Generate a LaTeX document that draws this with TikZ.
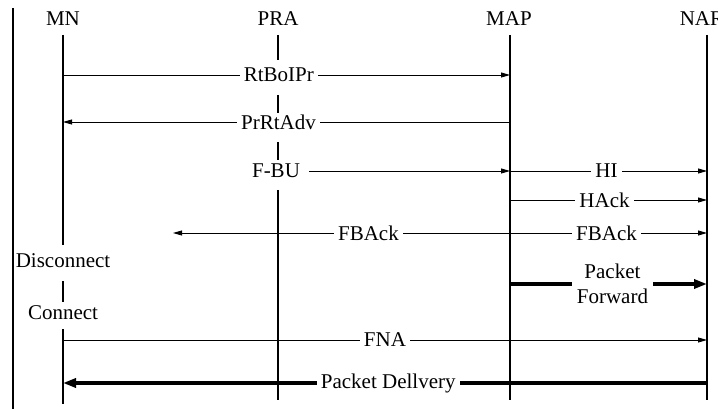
\documentclass[tikz,border=0pt]{standalone}
\usepackage{fontspec}
\setmainfont{Liberation Serif}
\usetikzlibrary{arrows.meta}
\tikzset{
  lbl/.style={font=\fontsize{21}{25}\selectfont, inner sep=0pt},
  gaplbl/.style={lbl, fill=white, inner xsep=4pt, inner ysep=1pt},
  life/.style={line width=2pt},
  border/.style={line width=2.8pt},
  msg/.style={line width=0.8pt, -{Triangle[length=9pt,width=5pt]}},
  bigmsg/.style={line width=3.8pt, -{Triangle[length=13pt,width=9pt]}},
}
\begin{document}
\begin{tikzpicture}[x=1pt,y=-1pt]
\useasboundingbox (0,0) rectangle (718,409);
% border
\coordinate (bT) at (13,8);
\coordinate (bB) at (13,409);
\draw[border] (bT) -- (bB);
% headers
\node[lbl] (MN) at (63,19) {MN};
\node[lbl] (PRA) at (278,19) {PRA};
\node[lbl] (MAP) at (509,19) {MAP};
\node[lbl] (NAR) at (702,19) {NAR};
% lifeline tops
\coordinate (mnT) at (63,35);
\coordinate (praT) at (278,35);
\coordinate (mapT) at (510,35);
\coordinate (narT) at (707,35);
% rows
\coordinate (r1) at (0,75);
\coordinate (r2) at (0,122);
\coordinate (r3) at (0,171);
\coordinate (r4) at (0,200);
\coordinate (r5) at (0,233);
\coordinate (r6) at (0,284);
\coordinate (r7) at (0,340);
\coordinate (r8) at (0,383);
% MN lifeline with state labels
\node[lbl] (disc) at (63,261) {Disconnect};
\node[lbl] (conn) at (63,313) {Connect};
\coordinate (mn1) at (63,245);
\coordinate (mn2) at (63,281);
\coordinate (mn3) at (63,302);
\coordinate (mn4) at (63,329);
\coordinate (mnB) at (63,404);
\draw[life] (mnT) -- (mn1);
\draw[life] (mn2) -- (mn3);
\draw[life] (mn4) -- (mnB);
% PRA lifeline in segments
\coordinate (pra1) at (278,60);
\coordinate (pra2) at (278,95);
\coordinate (pra3) at (278,113);
\coordinate (pra4) at (278,142);
\coordinate (pra5) at (278,160);
\coordinate (pra6) at (278,190);
\coordinate (praB) at (278,400);
\draw[life] (praT) -- (pra1);
\draw[life] (pra2) -- (pra3);
\draw[life] (pra4) -- (pra5);
\draw[life] (pra6) -- (praB);
% MAP, NAR lifelines
\coordinate (mapB) at (510,400);
\coordinate (narB) at (707,400);
\draw[life] (mapT) -- (mapB);
\draw[life] (narT) -- (narB);
% messages
\draw[msg] (mnT |- r1) -- node[gaplbl, pos=0.483] {RtBoIPr} (mapT |- r1);
\draw[msg] (mapT |- r2) -- node[gaplbl, pos=0.518] {PrRtAdv} (mnT |- r2);
\node[lbl, inner xsep=9pt] (fbu) at (276,171) {F-BU};
\draw[msg] (fbu.east |- r3) -- (mapT |- r3);
\draw[msg] (mapT |- r3) -- node[gaplbl, pos=0.49] {HI} (narT |- r3);
\draw[msg] (mapT |- r4) -- node[gaplbl, pos=0.48] {HAck} (narT |- r4);
\coordinate (fbL) at (173,233);
\draw[msg] (mapT |- r5) -- node[gaplbl, pos=0.42] {FBAck} (fbL);
\draw[msg] (mapT |- r5) -- node[gaplbl, pos=0.49] {FBAck} (narT |- r5);
\draw[bigmsg] (mapT |- r6) -- node[lbl, fill=white, inner xsep=5pt, inner ysep=2pt, align=center, pos=0.52] {Packet\\Forward} (narT |- r6);
\draw[msg] (mnT |- r7) -- node[gaplbl, pos=0.5] {FNA} (narT |- r7);
\draw[bigmsg] (narT |- r8) -- node[lbl, fill=white, inner xsep=4pt, pos=0.495] {Packet Dellvery} (mnT |- r8);
\end{tikzpicture}
\end{document}
